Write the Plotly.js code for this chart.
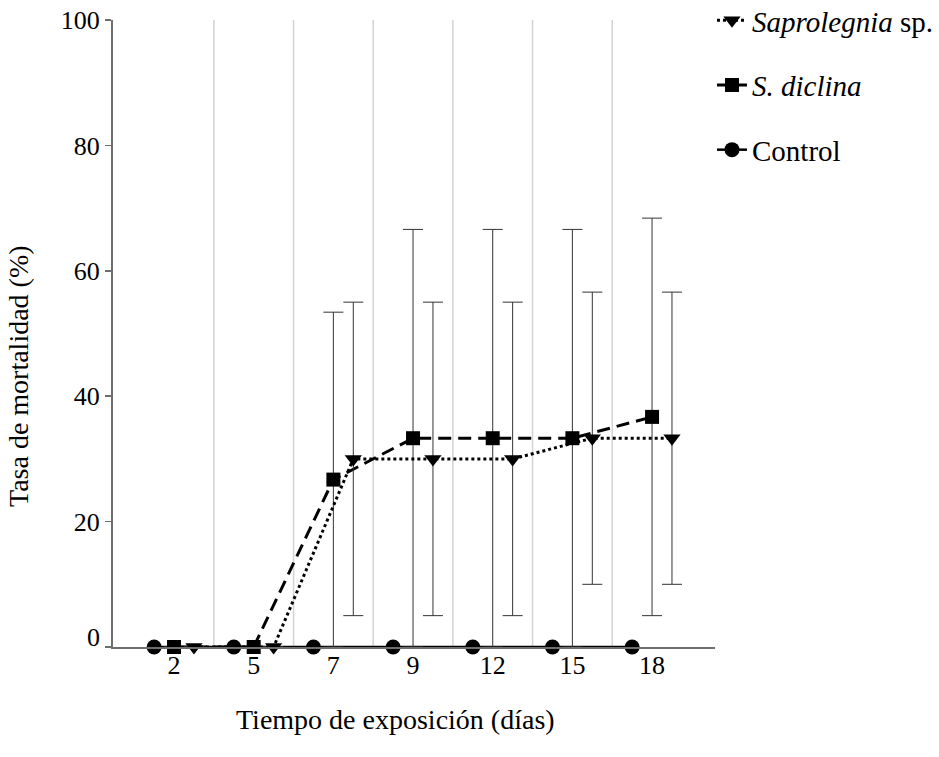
<!DOCTYPE html>
<html>
<head>
<meta charset="utf-8">
<script src="https://cdn.plot.ly/plotly-3.0.1.min.js"></script>
<style>html,body{margin:0;padding:0;background:#fff;}#chart{width:939px;height:757px;}</style>
</head>
<body>
<div id="chart"></div>
<script>
// Exposure time categories (days)
const days = ['2', '5', '7', '9', '12', '15', '18'];
// Mortality rate (%) per treatment
const controlMean = [0, 0, 0, 0, 0, 0, 0];
const diclinaMean = [0, 0, 26.7, 33.3, 33.3, 33.3, 36.7];
const diclinaErr = [0, 0, 26.7, 33.3, 33.3, 33.3, 31.7];
const saproMean = [0, 0, 30, 30, 30, 33.3, 33.3];
const saproErr = [0, 0, 25, 25, 25, 23.3, 23.3];
// Category boundaries used for the vertical grid lines
const boundaries = [0.5, 1.5, 2.5, 3.5, 4.5, 5.5];
const yTicks = [0, 20, 40, 60, 80, 100];

const FONT = "'Liberation Serif', 'Times New Roman', serif";
const errStyle = {type: 'data', visible: true, color: '#333333', thickness: 1, width: 10};

const traces = [
  {
    x: days, y: controlMean, name: 'Control', type: 'scatter', mode: 'lines+markers',
    orientation: 'v', offsetgroup: 'c', legendgroup: 'c', legendrank: 3, cliponaxis: false,
    line: {color: '#000', width: 2.5, dash: 'solid'},
    marker: {symbol: 'circle', size: 15, color: '#000'}
  },
  {
    x: days, y: diclinaMean, name: '<i>S. diclina</i>', type: 'scatter', mode: 'lines+markers',
    orientation: 'v', offsetgroup: 'd', legendgroup: 'd', legendrank: 2, cliponaxis: false,
    line: {color: '#000', width: 3, dash: '13px,7px'},
    marker: {symbol: 'square', size: 14, color: '#000'},
    error_y: Object.assign({array: diclinaErr}, errStyle)
  },
  {
    x: days, y: saproMean, name: '<i>Saprolegnia</i> sp.', type: 'scatter', mode: 'lines+markers',
    orientation: 'v', offsetgroup: 's', legendgroup: 's', legendrank: 1, cliponaxis: false,
    line: {color: '#000', width: 3, dash: 'dot'},
    marker: {symbol: 'triangle-down', size: 15, color: '#000'},
    error_y: Object.assign({array: saproErr}, errStyle)
  }
];

const gridShapes = boundaries.map(b => ({
  type: 'line', xref: 'x', yref: 'paper', x0: b, x1: b, y0: 0, y1: 1,
  layer: 'below', line: {color: '#d3d3d3', width: 1.5}
}));

const layout = {
  width: 939, height: 757,
  margin: {l: 113, r: 224, t: 20, b: 110, pad: 0, autoexpand: false},
  paper_bgcolor: '#fff', plot_bgcolor: 'rgba(0,0,0,0)',
  font: {family: FONT, size: 26, color: '#000'},
  scattermode: 'group', scattergap: 0.25,
  showlegend: true,
  legend: {
    x: 0.995, y: 1.040, xanchor: 'left', yanchor: 'top',
    traceorder: 'grouped', tracegroupgap: 24,
    font: {family: FONT, size: 29, color: '#000'},
    bgcolor: 'rgba(0,0,0,0)', borderwidth: 0
  },
  xaxis: {
    type: 'category', range: [-0.766, 6.79], categoryorder: 'array', categoryarray: days,
    showgrid: false, zeroline: false, showline: true, linecolor: '#6e6e6e', linewidth: 2,
    ticks: '', tickfont: {family: FONT, size: 26}, ticklabelstandoff: -6, fixedrange: true
  },
  yaxis: {
    range: [0, 100], tickvals: yTicks, ticktext: ['', '20', '40', '60', '80', '100'],
    showgrid: false, zeroline: false, showline: true, linecolor: '#6e6e6e', linewidth: 2,
    ticks: 'outside', ticklen: 6, tickcolor: '#6e6e6e', tickwidth: 1.5,
    tickfont: {family: FONT, size: 26}, ticklabelstandoff: 0
  },
  shapes: gridShapes,
  annotations: [
    {text: '0', xref: 'paper', yref: 'y', x: 0, y: 0, xanchor: 'right', yanchor: 'middle',
     xshift: -11, yshift: 10, showarrow: false, font: {family: FONT, size: 26}},
    {text: 'Tiempo de exposición (días)', xref: 'paper', yref: 'paper', x: 0.469, y: -0.1164,
     xanchor: 'center', yanchor: 'middle', showarrow: false, font: {family: FONT, size: 28}},
    {text: 'Tasa de mortalidad (%)', xref: 'paper', yref: 'paper', x: -0.158, y: 0.432,
     xanchor: 'center', yanchor: 'middle', textangle: -90, showarrow: false, font: {family: FONT, size: 28}}
  ]
};

Plotly.newPlot('chart', traces, layout, {displayModeBar: false, staticPlot: true});
</script>
</body>
</html>
